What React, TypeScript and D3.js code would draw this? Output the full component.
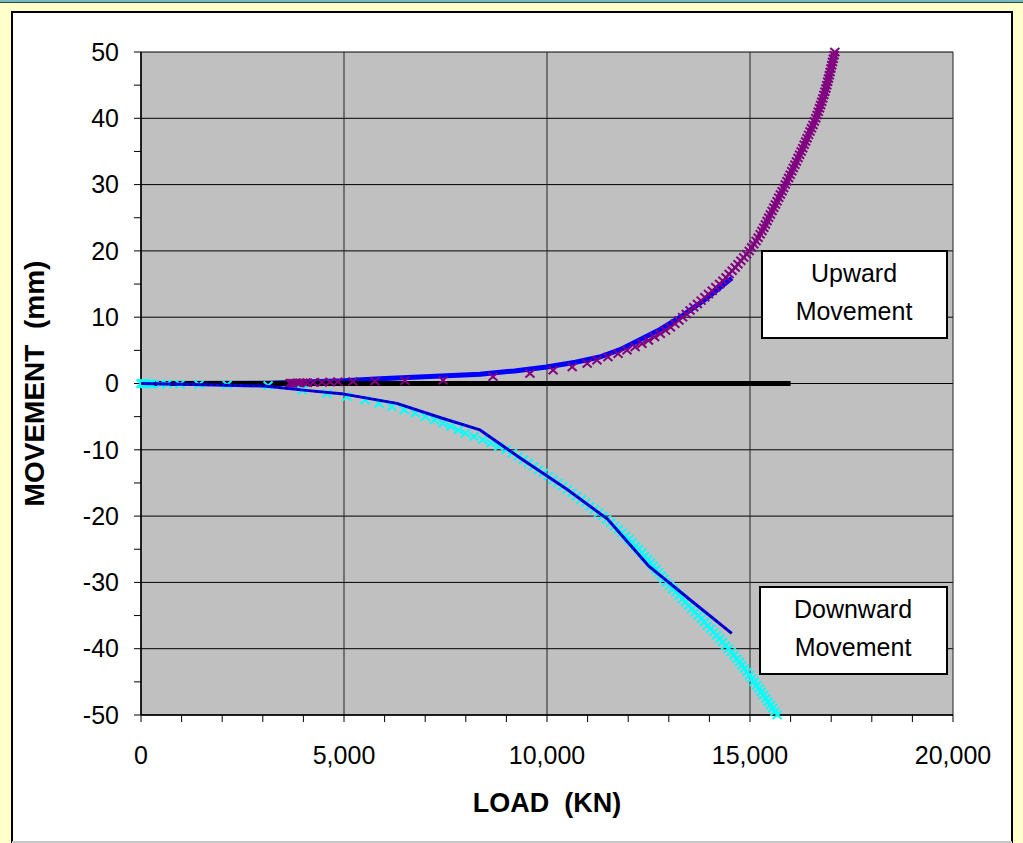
import React from 'react';
import * as d3 from 'd3';

const loadTicks = [0, 5000, 10000, 15000, 20000];
const moveTicks = [-50, -40, -30, -20, -10, 0, 10, 20, 30, 40, 50];

// measured load-movement curves, [load kN, movement mm]
const upwardMeasured: [number, number][] = [
  [0, 0], [3100, 0.05], [5000, 0.4], [5890, 0.7], [8350, 1.4], [9200, 1.9], [9990, 2.5],
  [10700, 3.2], [11300, 4.0], [11800, 5.1], [12290, 6.6], [12800, 8.2], [13280, 10.0],
  [13900, 12.7], [14550, 15.9],
];
const downwardMeasured: [number, number][] = [
  [0, 0], [1000, -0.1], [3100, -0.4], [4000, -1.0], [5000, -1.6], [6300, -3.0],
  [7400, -5.2], [8350, -7.0], [9330, -11.2], [10500, -16], [11500, -20.5],
  [12500, -27.5], [13500, -32.5], [14550, -37.7],
];
const zeroLine: [number, number][] = [[0, 0], [16000, 0]];

// predicted points (x markers)
const upwardPredicted: [number, number][] = [
  [3670, 0.02], [3700, 0.03], [3740, 0.04], [3790, 0.05], [3840, 0.06], [3880, 0.07],
  [3920, 0.08], [3990, 0.1], [4100, 0.12], [4240, 0.15], [4460, 0.18], [4660, 0.21],
  [4850, 0.25], [5220, 0.3], [5760, 0.35], [6500, 0.42],
  [7440, 0.5], [8670, 1.0], [9580, 1.5], [10150, 2.0], [10620, 2.5], [10990, 3.0],
  [11230, 3.5], [11500, 4.0], [11750, 4.5], [11970, 5.0], [12170, 5.5], [12340, 6.0],
  [12500, 6.5], [12650, 7.0], [12790, 7.5], [12920, 8.0], [13040, 8.5], [13150, 9.0],
  [13250, 9.5], [13340, 10.0], [13432, 10.5], [13523, 11], [13614, 11.5], [13705, 12],
  [13796, 12.5], [13887, 13], [13978, 13.5], [14068, 14], [14158, 14.5], [14250, 15],
  [14330, 15.5], [14410, 16], [14485, 16.5], [14560, 17], [14635, 17.5], [14705, 18],
  [14775, 18.5], [14845, 19], [14915, 19.5], [14980, 20], [15040, 20.5], [15095, 21],
  [15150, 21.5], [15200, 22], [15250, 22.5], [15295, 23], [15340, 23.5], [15380, 24],
  [15420, 24.5], [15460, 25], [15502, 25.5], [15544, 26], [15585, 26.5], [15626, 27],
  [15667, 27.5], [15708, 28], [15749, 28.5], [15790, 29], [15830, 29.5], [15870, 30],
  [15910, 30.5], [15950, 31], [15989, 31.5], [16028, 32], [16067, 32.5], [16106, 33],
  [16145, 33.5], [16184, 34], [16222, 34.5], [16260, 35], [16297, 35.5], [16334, 36],
  [16370, 36.5], [16406, 37], [16442, 37.5], [16478, 38], [16514, 38.5], [16550, 39],
  [16585, 39.5], [16620, 40], [16652, 40.5], [16682, 41], [16711, 41.5], [16739, 42],
  [16766, 42.5], [16793, 43], [16819, 43.5], [16844, 44], [16868, 44.5], [16890, 45],
  [16912, 45.5], [16933, 46], [16953, 46.5], [16973, 47], [16993, 47.5], [17013, 48],
  [17032, 48.5], [17051, 49], [17070, 49.5], [17090, 50],
];
const downwardPredicted: [number, number][] = [
  [0, 0], [25, 0], [50, -0.01], [80, -0.01], [110, -0.02], [150, -0.02], [200, -0.03],
  [250, -0.04], [470, -0.06], [640, -0.08], [960, -0.1], [1430, -0.14], [2120, -0.2],
  [3130, -0.3], [3970, -1.0], [4580, -1.5], [5070, -2.0], [5520, -2.5], [5860, -3.0],
  [6180, -3.5], [6480, -4.0], [6750, -4.5], [7000, -5.0], [7230, -5.5], [7440, -6.0],
  [7630, -6.5], [7810, -7.0], [7990, -7.5], [8200, -8.0], [8420, -8.5], [8620, -9.0],
  [8810, -9.5], [9000, -10], [9150, -10.5], [9290, -11], [9420, -11.5], [9545, -12],
  [9668, -12.5], [9790, -13], [9910, -13.5], [10030, -14], [10150, -14.5], [10268, -15],
  [10385, -15.5], [10500, -16], [10615, -16.5], [10728, -17], [10840, -17.5], [10950, -18],
  [11058, -18.5], [11164, -19], [11268, -19.5], [11370, -20], [11470, -20.5], [11568, -21],
  [11663, -21.5], [11755, -22], [11845, -22.5], [11932, -23], [12016, -23.5], [12098, -24],
  [12178, -24.5], [12256, -25], [12332, -25.5], [12406, -26], [12478, -26.5], [12548, -27],
  [12616, -27.5], [12683, -28], [12749, -28.5], [12814, -29], [12878, -29.5], [12942, -30],
  [13020, -30.5], [13098, -31], [13176, -31.5], [13254, -32], [13332, -32.5], [13410, -33],
  [13488, -33.5], [13566, -34], [13644, -34.5], [13722, -35], [13800, -35.5], [13876, -36],
  [13952, -36.5], [14028, -37], [14104, -37.5], [14180, -38], [14253, -38.5], [14326, -39],
  [14398, -39.5], [14470, -40], [14538, -40.5], [14605, -41], [14671, -41.5], [14736, -42],
  [14800, -42.5], [14863, -43], [14925, -43.5], [14986, -44], [15046, -44.5], [15105, -45],
  [15163, -45.5], [15220, -46], [15277, -46.5], [15334, -47], [15390, -47.5], [15446, -48],
  [15502, -48.5], [15558, -49], [15614, -49.5], [15670, -50],
];

const font = '"Liberation Sans", Arial, sans-serif';

const App: React.FC = () => {
  const x = d3.scaleLinear().domain([0, 20000]).range([141, 953]);
  const y = d3.scaleLinear().domain([-50, 50]).range([715, 52]);
  const line = d3.line<[number, number]>().x(d => x(d[0])).y(d => y(d[1]));
  const fmt = d3.format(',');
  const cross = 'M-4.5,-4L4.5,4M-4.5,4L4.5,-4';

  return (
    <svg width={1023} height={843} style={{ position: 'absolute', left: 0, top: 0 }}
      fontFamily={font}>
      {/* page frame */}
      <rect x={0} y={0} width={1023} height={843} fill="#FFFFCC" />
      <rect x={0} y={0} width={1023} height={2} fill="#78B8BC" />
      <line x1={0} x2={1023} y1={2.5} y2={2.5} stroke="#2A4A4A" />
      <rect x={12} y={12} width={1000} height={840} fill="#fff" stroke="#000" strokeWidth={2} />
      <line x1={12} x2={1012} y1={842} y2={842} stroke="#C8C8C8" strokeWidth={2} />

      {/* plot area */}
      <rect x={x(0)} y={y(50)} width={x(20000) - x(0)} height={y(-50) - y(50)} fill="#C0C0C0" />
      {moveTicks.map(t => (
        <line key={'gy' + t} x1={x(0)} x2={x(20000)} y1={y(t)} y2={y(t)} stroke="#000" strokeWidth={1} />
      ))}
      {loadTicks.map(t => (
        <line key={'gx' + t} x1={x(t)} x2={x(t)} y1={y(50)} y2={y(-50)} stroke="#222" strokeWidth={1} />
      ))}

      {/* axes */}
      <line x1={x(0)} x2={x(0)} y1={y(50)} y2={y(-50)} stroke="#000" strokeWidth={1.5} />
      <line x1={x(0)} x2={x(20000)} y1={y(-50)} y2={y(-50)} stroke="#000" strokeWidth={1.5} />
      {y.ticks(20).map(t => (
        <line key={'ty' + t} x1={x(0) - 7} x2={x(0)} y1={y(t)} y2={y(t)} stroke="#000" strokeWidth={1} />
      ))}
      {x.ticks(20).map(t => (
        <line key={'tx' + t} x1={x(t)} x2={x(t)} y1={y(-50)} y2={y(-50) + 7} stroke="#000" strokeWidth={1} />
      ))}
      {moveTicks.map(t => (
        <text key={'ly' + t} x={119} y={y(t)} dy="0.35em" textAnchor="end" fontSize={25} fill="#000">{t}</text>
      ))}
      {loadTicks.map(t => (
        <text key={'lx' + t} x={x(t)} y={764} textAnchor="middle" fontSize={25} fill="#000">{fmt(t)}</text>
      ))}
      <text x={(x(0) + x(20000)) / 2} y={812} textAnchor="middle" fontSize={27} fontWeight="bold" xmlSpace="preserve">LOAD  (KN)</text>
      <text transform={`translate(44,${(y(50) + y(-50)) / 2}) rotate(-90)`} textAnchor="middle" fontSize={28}
        fontWeight="bold" xmlSpace="preserve">MOVEMENT  (mm)</text>

      {/* series */}
      <path d={line(upwardMeasured) || ''} fill="none" stroke="#0000FF" strokeWidth={5} strokeLinejoin="round" />
      <path d={line(zeroLine) || ''} fill="none" stroke="#000" strokeWidth={5} />
      {upwardPredicted.map((d, i) => (
        <path key={'up' + i} d={cross} transform={`translate(${x(d[0])},${y(d[1])})`} stroke="#800080" strokeWidth={2} fill="none" />
      ))}
      {downwardPredicted.map((d, i) => (
        <path key={'dn' + i} d={cross} transform={`translate(${x(d[0])},${y(d[1])})`} stroke="#00FFFF" strokeWidth={2} fill="none" />
      ))}
      <path d={line(downwardMeasured) || ''} fill="none" stroke="#0000FF" strokeWidth={3} strokeLinejoin="round" />
      <path d={line(downwardMeasured) || ''} fill="none" stroke="#000090" strokeWidth={2} strokeDasharray="3,3" />

      {/* annotations */}
      <rect x={762} y={251} width={185} height={87} fill="#fff" stroke="#000" strokeWidth={2} />
      <text x={854} y={282} textAnchor="middle" fontSize={25}>Upward</text>
      <text x={854} y={320} textAnchor="middle" fontSize={25}>Movement</text>
      <rect x={760} y={587} width={187} height={87} fill="#fff" stroke="#000" strokeWidth={2} />
      <text x={853} y={618} textAnchor="middle" fontSize={25}>Downward</text>
      <text x={853} y={656} textAnchor="middle" fontSize={25}>Movement</text>
    </svg>
  );
};

export default App;
